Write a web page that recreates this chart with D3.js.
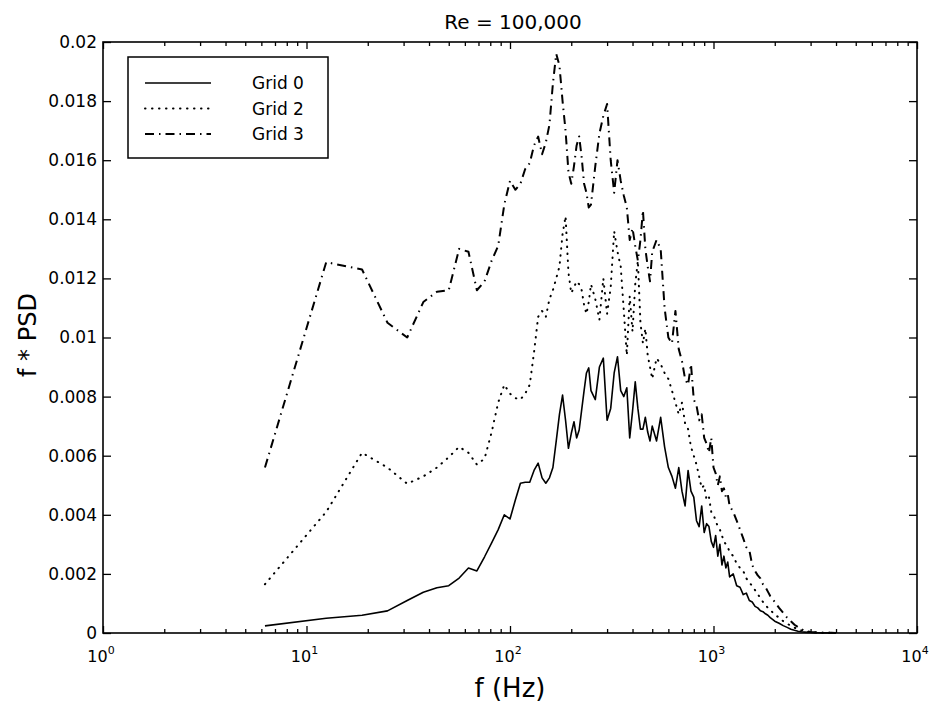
<!DOCTYPE html>
<html>
<head>
<meta charset="utf-8">
<script src="https://cdn.jsdelivr.net/npm/d3@7/dist/d3.min.js"></script>
<style>
  html, body { margin: 0; padding: 0; background: #fff; }
  svg { display: block; font-family: "DejaVu Sans", "Liberation Sans", Arial, sans-serif; }
</style>
</head>
<body>
<svg id="chart" width="930" height="710"></svg>
<script>
// ---------------- data ----------------
const freqs = [
  6.25,12.5,18.75,25,31.25,37.5,43.75,50,56.25,62.5,68.75,75,81.25,87.5,93.75,100,
  106.25,112.5,118.75,125,131.25,137.5,143.75,150,156.25,162.5,168.75,175,181.25,187.5,193.75,200,
  206.25,212.5,218.75,225,231.25,237.5,243.75,250,262.5,275,287.5,300,312.5,325,337.5,350,
  362.5,375,387.5,400,412.5,425,437.5,450,462.5,475,487.5,500,525,550,575,600,
  625,650,675,700,725,750,775,800,825,850,875,900,925,950,975,1000,
  1025,1050,1075,1100,1125,1150,1175,1200,1250,1300,1350,1400,1450,1500,1550,1600,
  1650,1700,1750,1800,1850,1900,1950,2000,2100,2200,2300,2400,2500,2600,2700,2800,
  2900,3000,3200,3400,3600,3800,4000
];
const grid0 = [
  0.00024,0.0005,0.0006,0.00075,0.0011,0.00138,0.00153,0.0016,0.00186,0.0022,0.0021,0.00258,0.00305,0.0035,0.004,0.00386,
  0.0045,0.00507,0.0051,0.0051,0.0055,0.00575,0.00525,0.00507,0.00525,0.0056,0.0065,0.0074,0.00805,0.0072,0.00625,0.00675,
  0.00715,0.0066,0.00687,0.00755,0.0082,0.0088,0.00897,0.0082,0.0079,0.009,0.0093,0.0072,0.0076,0.0088,0.00935,0.0082,
  0.008,0.0083,0.0066,0.0075,0.0085,0.0076,0.0069,0.0069,0.0073,0.0068,0.0065,0.007,0.0065,0.0073,0.0063,0.0056,
  0.0053,0.0049,0.0056,0.0048,0.0043,0.0055,0.0048,0.0046,0.0038,0.0036,0.0043,0.0034,0.0037,0.0036,0.0031,0.0029,
  0.0033,0.0026,0.003,0.0023,0.0026,0.0022,0.0024,0.0019,0.002,0.0016,0.00155,0.0013,0.00135,0.0011,0.00105,0.0009,
  0.00085,0.00075,0.00072,0.00065,0.0006,0.00052,0.00046,0.0004,0.00033,0.00025,0.00019,0.00013,0.00009,0.00006,0.00004,0.00003,
  0.00002,0.000015,0.00001,0.000005,0.000003,0.000002,0.000001
];
const grid2 = [
  0.00165,0.0041,0.0061,0.0056,0.00505,0.0053,0.0056,0.00595,0.0063,0.0061,0.0057,0.0059,0.0068,0.0078,0.0084,0.0081,
  0.00795,0.0079,0.0081,0.0084,0.0095,0.0107,0.0109,0.0107,0.0113,0.0116,0.012,0.0124,0.0135,0.0141,0.0122,0.0115,
  0.0117,0.0119,0.0118,0.0116,0.0111,0.0108,0.0112,0.0118,0.0113,0.0106,0.012,0.0108,0.0117,0.0136,0.0129,0.0124,
  0.0109,0.0094,0.0114,0.0102,0.0118,0.0126,0.0105,0.0098,0.0103,0.0094,0.009,0.0086,0.0093,0.0091,0.0088,0.0086,
  0.0082,0.0078,0.0074,0.0078,0.0071,0.0069,0.0063,0.006,0.0057,0.0053,0.0049,0.005,0.0045,0.0046,0.0041,0.004,
  0.0038,0.0036,0.0035,0.0033,0.0031,0.003,0.0029,0.00275,0.0026,0.00235,0.0022,0.0021,0.00185,0.0017,0.0016,0.00145,
  0.0013,0.0012,0.00105,0.00095,0.00085,0.00078,0.0007,0.00062,0.00052,0.0004,0.00032,0.00024,0.00018,0.00013,0.00009,0.00006,
  0.00004,0.00003,0.00002,0.00001,0.000006,0.000004,0.000002
];
const grid3 = [
  0.0056,0.01255,0.0123,0.0105,0.01,0.0112,0.01155,0.0116,0.013,0.0129,0.0116,0.0119,0.0126,0.0131,0.0145,0.0153,
  0.015,0.0152,0.0157,0.0159,0.0165,0.0168,0.0162,0.0166,0.0172,0.0186,0.0196,0.0192,0.018,0.017,0.0156,0.0152,
  0.0158,0.0165,0.0168,0.0161,0.0152,0.0149,0.0144,0.0145,0.0158,0.0169,0.0175,0.0179,0.016,0.0149,0.016,0.0153,
  0.0148,0.0144,0.0133,0.0137,0.0131,0.0126,0.0133,0.0143,0.013,0.0124,0.0119,0.0129,0.0133,0.013,0.011,0.01,
  0.0098,0.0109,0.0096,0.0092,0.0086,0.0084,0.0091,0.0079,0.0077,0.0072,0.0074,0.0066,0.0064,0.0061,0.0066,0.0056,
  0.0054,0.005,0.0053,0.0048,0.0049,0.0046,0.0047,0.0043,0.0041,0.0038,0.0035,0.0032,0.0029,0.0028,0.0023,0.0021,
  0.00195,0.00185,0.00165,0.00155,0.0014,0.00125,0.00115,0.00105,0.00085,0.00068,0.00052,0.0004,0.00028,0.0002,0.00013,0.00008,
  0.00005,0.000035,0.00002,0.000012,0.000008,0.000005,0.000003
];
const seriesNames = ["Grid 0", "Grid 2", "Grid 3"];
const yTicks = [0,0.002,0.004,0.006,0.008,0.01,0.012,0.014,0.016,0.018,0.02];
const yTickLabels = ["0","0.002","0.004","0.006","0.008","0.01","0.012","0.014","0.016","0.018","0.02"];
const xMajorTicks = [1,10,100,1000,10000];
const xTickExponents = ["0","1","2","3","4"];
const titleText = "Re = 100,000";
const xLabelText = "f (Hz)";
const yLabelText = "f * PSD";

// ---------------- layout ----------------
const L = 103, R = 917, T = 42, B = 633;
const svg = d3.select("#chart");
const x = d3.scaleLog().domain([1, 10000]).range([L, R]);
const y = d3.scaleLinear().domain([0, 0.02]).range([B, T]);
const xMinor = x.ticks().filter(v => xMajorTicks.indexOf(v) < 0);

// axes (inward ticks, all four sides)
function styleAxis(g) {
  g.select(".domain").remove();
  g.selectAll(".tick line").attr("stroke", "#000").attr("stroke-width", 1.3);
}
svg.append("g").attr("transform", `translate(0,${B})`)
  .call(d3.axisBottom(x).tickValues(xMinor).tickSize(-4).tickFormat(""))
  .call(styleAxis);
svg.append("g").attr("transform", `translate(0,${T})`)
  .call(d3.axisTop(x).tickValues(xMinor).tickSize(-4).tickFormat(""))
  .call(styleAxis);
svg.append("g").attr("transform", `translate(0,${B})`)
  .call(d3.axisBottom(x).tickValues(xMajorTicks).tickSize(-7).tickFormat(""))
  .call(styleAxis);
svg.append("g").attr("transform", `translate(0,${T})`)
  .call(d3.axisTop(x).tickValues(xMajorTicks).tickSize(-7).tickFormat(""))
  .call(styleAxis);

const yl = svg.append("g").attr("transform", `translate(${L},0)`)
  .call(d3.axisLeft(y).tickValues(yTicks).tickSize(-8).tickPadding(6)
        .tickFormat((d, i) => yTickLabels[i]))
  .call(styleAxis);
yl.selectAll(".tick text").attr("font-size", 17).attr("fill", "#000")
  .attr("font-family", "DejaVu Sans");
svg.append("g").attr("transform", `translate(${R},0)`)
  .call(d3.axisRight(y).tickValues(yTicks).tickSize(-8).tickFormat(""))
  .call(styleAxis);

// x tick labels with superscript exponents
xMajorTicks.forEach((v, i) => {
  const t = svg.append("text")
    .attr("x", x(v) - 2).attr("y", 662)
    .attr("text-anchor", "middle")
    .attr("font-size", 16).attr("fill", "#000");
  t.append("tspan").text("10");
  t.append("tspan").attr("font-size", 11).attr("dy", -8).text(xTickExponents[i]);
});

// frame
svg.append("rect").attr("x", L).attr("y", T).attr("width", R - L).attr("height", B - T)
  .attr("fill", "none").attr("stroke", "#000").attr("stroke-width", 1.6);

// ---------------- lines ----------------
const styles = [
  { dash: null, width: 1.6, cap: "butt" },
  { dash: "0.5,6.5", width: 2, cap: "round" },
  { dash: "9,5,1.5,5", width: 2, cap: "butt" }
];
const allSeries = [grid0, grid2, grid3];
const line = d3.line().x((d, i) => x(freqs[i])).y(d => y(d));
allSeries.forEach((s, k) => {
  svg.append("path").datum(s)
    .attr("d", line)
    .attr("fill", "none")
    .attr("stroke", "#000")
    .attr("stroke-width", styles[k].width)
    .attr("stroke-linecap", styles[k].cap)
    .attr("stroke-linejoin", "round")
    .attr("stroke-dasharray", styles[k].dash);
});

// ---------------- legend ----------------
const lg = svg.append("g");
lg.append("rect").attr("x", 128).attr("y", 57).attr("width", 200).attr("height", 101)
  .attr("fill", "#fff").attr("stroke", "#000").attr("stroke-width", 1.5);
seriesNames.forEach((n, k) => {
  const yy = 83 + k * 25.5;
  lg.append("line").attr("x1", 145).attr("x2", 211).attr("y1", yy).attr("y2", yy)
    .attr("stroke", "#000").attr("stroke-width", styles[k].width)
    .attr("stroke-linecap", styles[k].cap)
    .attr("stroke-dasharray", styles[k].dash);
  lg.append("text").attr("x", 252).attr("y", yy + 6)
    .attr("font-size", 17).attr("fill", "#000").text(n);
});

// ---------------- titles ----------------
svg.append("text").attr("x", 513).attr("y", 29).attr("text-anchor", "middle")
  .attr("font-size", 20).attr("fill", "#000").text(titleText);
svg.append("text").attr("x", 510).attr("y", 697).attr("text-anchor", "middle")
  .attr("font-size", 26).attr("fill", "#000").text(xLabelText);
svg.append("text").attr("transform", "translate(36,335) rotate(-90)")
  .attr("text-anchor", "middle")
  .attr("font-size", 24).attr("fill", "#000").text(yLabelText);
</script>
</body>
</html>
